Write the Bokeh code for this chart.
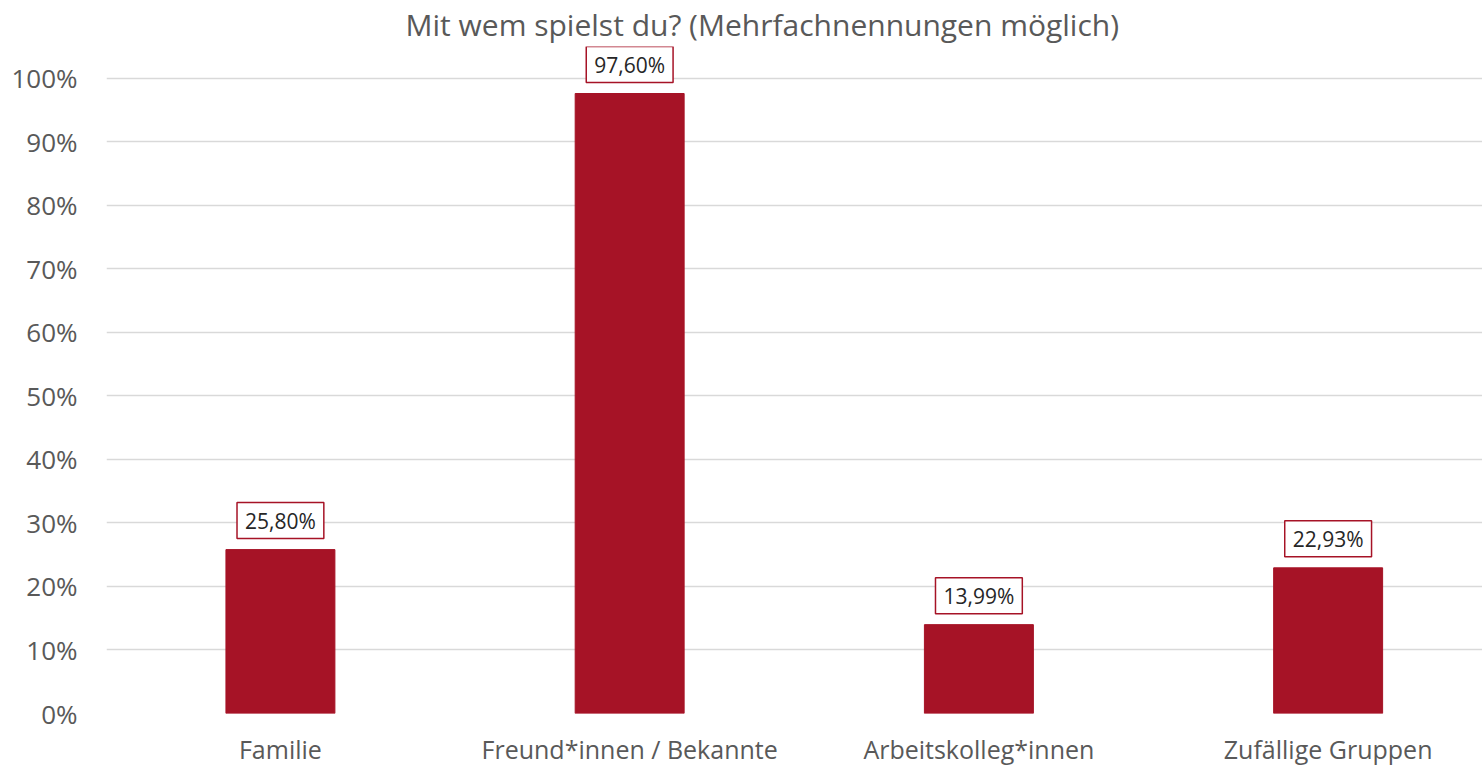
from bokeh.plotting import figure
from bokeh.models import Range1d, FixedTicker, Label
from bokeh.embed import file_html
from bokeh.resources import INLINE

categories = ["Familie", "Freund*innen / Bekannte", "Arbeitskolleg*innen", "Zufällige Gruppen"]
values = [25.80, 97.60, 13.99, 22.93]
y_ticks = [0, 10, 20, 30, 40, 50, 60, 70, 80, 90, 100]
title_text = "Mit wem spielst du? (Mehrfachnennungen möglich)"

BAR = "#A61326"
FONT = "Open Sans"

xs = list(range(len(categories)))

p = figure(width=1482, height=768, output_backend="svg", toolbar_location=None,
           x_range=Range1d(-0.498, 3.442), y_range=Range1d(0, 105.0),
           min_border_left=106, min_border_right=0, min_border_top=0, min_border_bottom=40,
           title=title_text)

p.title.align = "left"
p.title.text_font = FONT
p.title.text_font_style = "normal"
p.title.text_font_size = "30px"
p.title.text_color = "#595959"
p.title.standoff = 3
p.title.offset = 299

p.vbar(x=xs, top=values, width=0.312, color=BAR)

p.outline_line_color = None
p.xgrid.grid_line_color = None
p.ygrid.grid_line_color = "#D9D9D9"
p.ygrid.grid_line_width = 1.5
p.ygrid.ticker = FixedTicker(ticks=y_ticks)

p.yaxis.ticker = FixedTicker(ticks=y_ticks)
p.yaxis.major_label_overrides = {t: f"{t}%" for t in y_ticks}
p.xaxis.ticker = FixedTicker(ticks=xs)
p.xaxis.major_label_overrides = {i: c for i, c in enumerate(categories)}

for ax in (p.xaxis[0], p.yaxis[0]):
    ax.axis_line_color = None
    ax.major_tick_line_color = None
    ax.minor_tick_line_color = None
    ax.major_tick_out = 0
    ax.major_tick_in = 0
    ax.major_label_text_font = FONT
    ax.major_label_text_color = "#595959"
p.yaxis.major_label_text_font_size = "26px"
p.xaxis.major_label_text_font_size = "25px"
p.yaxis.major_label_standoff = 29
p.xaxis.major_label_standoff = 18

for x, v in zip(xs, values):
    txt = f"{v:.2f}".replace(".", ",") + "%"
    p.add_layout(Label(x=x, y=v, text=txt, y_offset=11, text_align="center",
                       text_baseline="bottom", text_font=FONT, text_font_size="21px",
                       text_color="#262626", border_line_color=BAR, border_line_width=1.5,
                       background_fill_color="white", padding=(8, 4)))

open("out.html", "w").write(file_html(p, INLINE))
